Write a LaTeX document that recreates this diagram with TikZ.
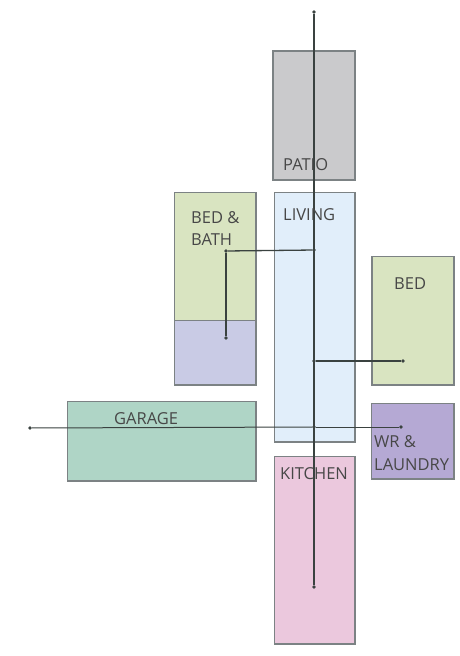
\documentclass[tikz,border=0pt]{standalone}
\usepackage{fontspec}
\setmainfont{Open Sans}
\definecolor{edge}{HTML}{7C8284}
\definecolor{wire}{HTML}{3A4240}
\definecolor{cpatio}{HTML}{CACACC}
\definecolor{cliving}{HTML}{E1EEFA}
\definecolor{cbed}{HTML}{D9E4C1}
\definecolor{cbath}{HTML}{C9CBE5}
\definecolor{cgarage}{HTML}{AFD5C6}
\definecolor{cwr}{HTML}{B5A9D4}
\definecolor{ckitchen}{HTML}{EBC8DD}
\tikzset{
  room/.style={draw=edge,line width=1.4pt,inner sep=0pt,outer sep=0pt},
  lbl/.style={inner sep=0pt,font=\fontsize{16.5}{20}\selectfont,text=#1,align=left},
  lbl/.default=black!72,
  dot/.style={circle,fill=wire,inner sep=0pt,minimum size=3.6pt},
  wire/.style={draw=wire,line width=1.3pt},
  thin wire/.style={draw=wire,line width=1pt}
}
\newcommand{\roomat}[6]{% name, x0, y0, x1, y1, fill
  \path[room,fill=#6] (#2,#3) rectangle (#4,#5);
  \coordinate (#1) at ({(#2+#4)/2},{(#3+#5)/2});
}
\begin{document}
\begin{tikzpicture}[x=1pt,y=-1pt]
\useasboundingbox[fill=white] (0,0) rectangle (459,656);
\roomat{patio}{273}{51}{355}{180}{cpatio}
\roomat{living}{274.5}{192.5}{355}{442}{cliving}
\roomat{bedbath}{174.5}{192.5}{256}{320.5}{cbed}
\roomat{bath}{174.5}{320.5}{256}{385}{cbath}
\roomat{bed}{372}{256.5}{454}{385}{cbed}
\roomat{garage}{67.5}{401.5}{256}{481}{cgarage}
\roomat{wr}{371.5}{403.5}{454}{479}{cwr}
\roomat{kitchen}{274.5}{456.5}{355}{644}{ckitchen}
\node[dot] (top) at (314,12) {};
\node[dot] (bottom) at (314,587) {};
\node[dot] (hub1) at (314,250) {};
\node[dot] (hub2) at (314,361) {};
\node[dot] (hub3) at (314,427) {};
\node[dot] (bb) at (226,251) {};
\node[dot] (bt) at (226,338) {};
\node[dot] (be) at (403,361) {};
\node[dot] (gl) at (30,428) {};
\node[dot] (wl) at (401,427) {};
\draw[wire] (top) -- (bottom);
\draw[wire] (hub1) -- (bb);
\draw[wire] (bb) -- (bt);
\draw[wire] (hub2) -- (be);
\draw[thin wire] (gl) -- (hub3);
\draw[thin wire] (hub3) -- (wl);
\node[lbl,anchor=base west] (tpatio) at (283,170) {PATIO};
\node[lbl,anchor=base west] (tliving) at (283,220) {LIVING};
\node[lbl,anchor=base west] (tbb1) at (191,223) {BED \&};
\node[lbl,anchor=base west] (tbb2) at (191,245) {BATH};
\node[lbl,anchor=base west] (tbed) at (394,289) {BED};
\node[lbl,anchor=base west] (tgar) at (114,424) {GARAGE};
\node[lbl,anchor=base west] (twr1) at (374,447) {WR \&};
\node[lbl,anchor=base west] (twr2) at (374,470) {LAUNDRY};
\node[lbl,anchor=base west] (tkit) at (280,479) {KITCHEN};
\end{tikzpicture}
\end{document}
